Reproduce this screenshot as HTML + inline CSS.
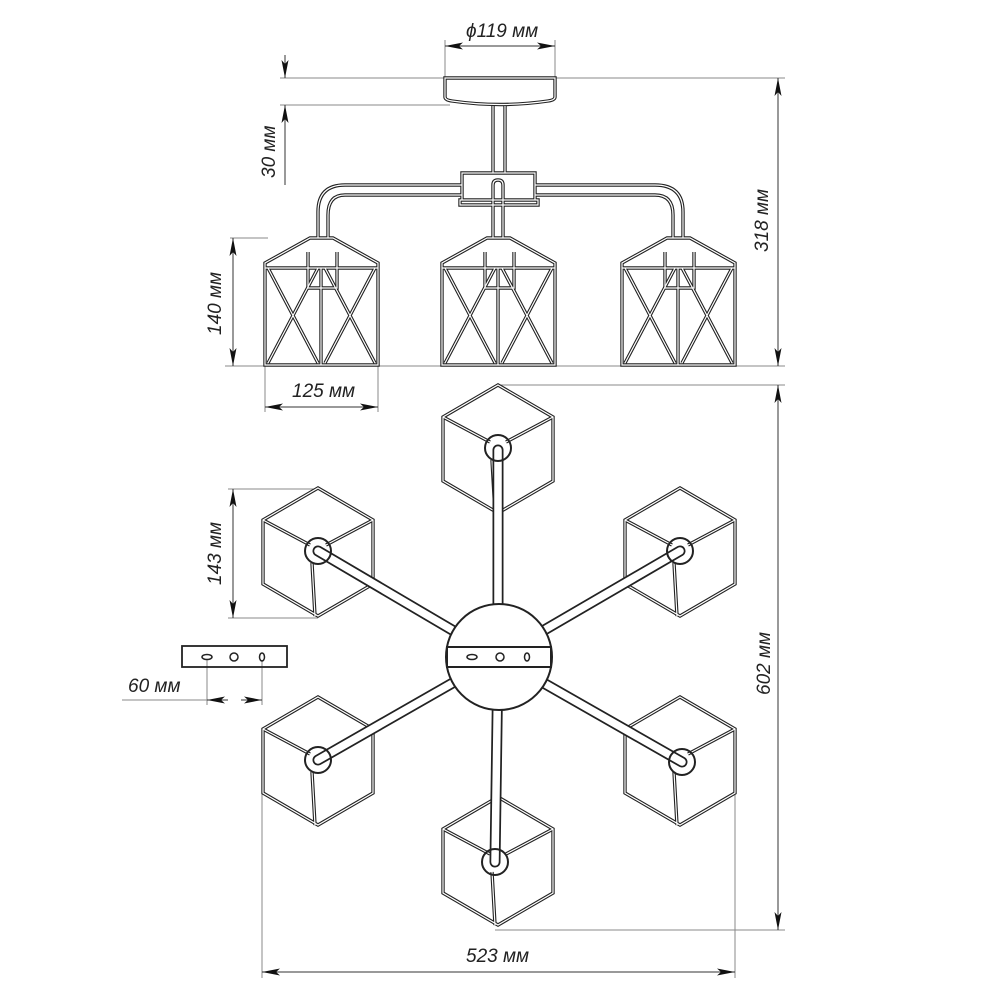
<!DOCTYPE html>
<html><head><meta charset="utf-8"><style>
html,body{margin:0;padding:0;background:#fff;}
svg{display:block;}
text{font-family:"Liberation Sans",sans-serif;font-style:italic;fill:#222;font-size:19px;}
</style></head><body>
<svg width="1000" height="1000" viewBox="0 0 1000 1000" xmlns="http://www.w3.org/2000/svg">
<defs>
<marker id="a" viewBox="0 0 18 7" refX="18" refY="3.5" markerWidth="18" markerHeight="7" orient="auto-start-reverse" markerUnits="userSpaceOnUse"><path d="M0,0 L18,3.5 L0,7 L4,3.5 Z" fill="#111"/></marker>
<g id="cube">
<path d="M0,-63 L55,-31 L55,33 L0,65 L-55,33 L-55,-31 Z M-55,-31 L-8,-6 M55,-31 L8,-6 M-6,12 L-3,65" fill="none"/>
</g>
<g id="lantern" fill="none">
<path d="M45,0 L68,0 L113,25 L113,127 L0,127 L0,25 Z"/>
<path d="M0,30 L113,30 M56,30 L56,127 M3,30 L53,125 M53,30 L3,125 M60,30 L110,125 M110,30 L60,125"/>
<path d="M43,14 L43,50 L72,50 L72,14"/>
</g>
</defs>

<g stroke="#888" stroke-width="1" fill="none">
<line x1="445" y1="40" x2="445" y2="78"/><line x1="555" y1="40" x2="555" y2="78"/>
<line x1="280" y1="78" x2="785" y2="78"/><line x1="280" y1="105" x2="450" y2="105"/>
<line x1="230" y1="238" x2="268" y2="238"/>
<line x1="225" y1="366" x2="785" y2="366"/>
<line x1="265" y1="366" x2="265" y2="412"/><line x1="378" y1="366" x2="378" y2="412"/>
<line x1="498" y1="385" x2="785" y2="385"/>
<line x1="228" y1="489" x2="318" y2="489"/><line x1="228" y1="618" x2="318" y2="618"/>
<line x1="495" y1="930" x2="785" y2="930"/>
<line x1="262" y1="760" x2="262" y2="978"/><line x1="735" y1="760" x2="735" y2="978"/>
<line x1="207" y1="660" x2="207" y2="705"/><line x1="262" y1="660" x2="262" y2="705"/>
<line x1="122" y1="700" x2="207" y2="700"/>
</g>
<g stroke="#333" stroke-width="1" fill="none">
<line x1="445" y1="46" x2="555" y2="46" marker-start="url(#a)" marker-end="url(#a)"/>
<line x1="285" y1="55" x2="285" y2="78" marker-end="url(#a)"/>
<line x1="285" y1="185" x2="285" y2="105" marker-end="url(#a)"/>
<line x1="778" y1="78" x2="778" y2="366" marker-start="url(#a)" marker-end="url(#a)"/>
<line x1="233" y1="238" x2="233" y2="366" marker-start="url(#a)" marker-end="url(#a)"/>
<line x1="265" y1="407" x2="378" y2="407" marker-start="url(#a)" marker-end="url(#a)"/>
<line x1="778" y1="385" x2="778" y2="930" marker-start="url(#a)" marker-end="url(#a)"/>
<line x1="233" y1="489" x2="233" y2="618" marker-start="url(#a)" marker-end="url(#a)"/>
<line x1="262" y1="972" x2="735" y2="972" marker-start="url(#a)" marker-end="url(#a)"/>
<line x1="207" y1="700" x2="228" y2="700" marker-start="url(#a)"/>
<line x1="241" y1="700" x2="262" y2="700" marker-end="url(#a)"/>
</g>

<text x="466" y="37">ϕ119 мм</text>
<text transform="translate(275,178) rotate(-90)">30 мм</text>
<text transform="translate(768,252) rotate(-90)">318 мм</text>
<text transform="translate(221,335) rotate(-90)">140 мм</text>
<text x="292" y="397">125 мм</text>
<text transform="translate(221,585) rotate(-90)">143 мм</text>
<text transform="translate(770,695) rotate(-90)">602 мм</text>
<text x="128" y="692">60 мм</text>
<text x="466" y="962">523 мм</text>

<g id="topv" fill="none">
<path d="M445,78 L555,78 L555,97 Q555,100 548,101 Q500,108 452,101 Q445,100 445,97 Z"/>
<path d="M493,106 L493,173 M505,106 L505,173"/>
<path d="M462,173 L535,173 L535,200 L462,200 Z M460,200 L538,200 L538,205 L460,205 Z"/>
<path d="M462,185 L345,185 Q318,185 318,212 L318,238 M462,195 L345,195 Q328,195 328,215 L328,238"/>
<path d="M535,185 L655,185 Q683,185 683,212 L683,238 M535,195 L655,195 Q673,195 673,215 L673,238"/>
<path d="M493,185 Q493,180 498,180 Q503,180 503,185 L503,238 M493,185 L493,238"/>
<use href="#lantern" x="265" y="238"/>
<use href="#lantern" x="442" y="238"/>
<use href="#lantern" x="622" y="238"/>
</g>
<use href="#topv" stroke="#222" stroke-width="3.4"/>
<use href="#topv" stroke="#fff" stroke-width="1.2"/>

<g id="cubes">
<use href="#cube" x="498" y="448"/>
<use href="#cube" x="318" y="551"/>
<use href="#cube" x="680" y="551"/>
<use href="#cube" x="318" y="760"/>
<use href="#cube" x="680" y="760"/>
<use href="#cube" x="498" y="860"/>
</g>
<use href="#cubes" stroke="#222" stroke-width="3.4"/>
<use href="#cubes" stroke="#fff" stroke-width="1.2"/>

<g id="arms">
<line x1="498" y1="657" x2="498" y2="450"/>
<line x1="498" y1="657" x2="318" y2="551"/>
<line x1="498" y1="657" x2="680" y2="551"/>
<line x1="498" y1="657" x2="318" y2="760"/>
<line x1="498" y1="657" x2="682" y2="762"/>
<line x1="498" y1="657" x2="495" y2="862"/>
</g>
<use href="#arms" stroke="#222" stroke-width="11" stroke-linecap="round"/>
<use href="#arms" stroke="#fff" stroke-width="7.5" stroke-linecap="round"/>
<g fill="none" stroke="#222" stroke-width="2">
<circle cx="498" cy="448" r="13"/><circle cx="318" cy="551" r="13"/><circle cx="680" cy="551" r="13"/>
<circle cx="318" cy="760" r="13"/><circle cx="682" cy="762" r="13"/><circle cx="495" cy="862" r="13"/>
</g>

<circle cx="499" cy="657" r="53" fill="#fff" stroke="#222" stroke-width="2"/>
<rect x="447" y="647" width="104" height="20" fill="#fff" stroke="#222" stroke-width="2"/>
<g fill="none" stroke="#222" stroke-width="1.5">
<ellipse cx="472" cy="657" rx="5" ry="2.5"/><circle cx="500" cy="657" r="4"/><ellipse cx="527" cy="657" rx="2.5" ry="4"/>
<rect x="182" y="646" width="105" height="21" stroke-width="1.8"/>
<ellipse cx="207" cy="657" rx="5" ry="2.5"/><circle cx="234" cy="657" r="4"/><ellipse cx="262" cy="657" rx="2.5" ry="4"/>
</g>
</svg>
</body></html>
